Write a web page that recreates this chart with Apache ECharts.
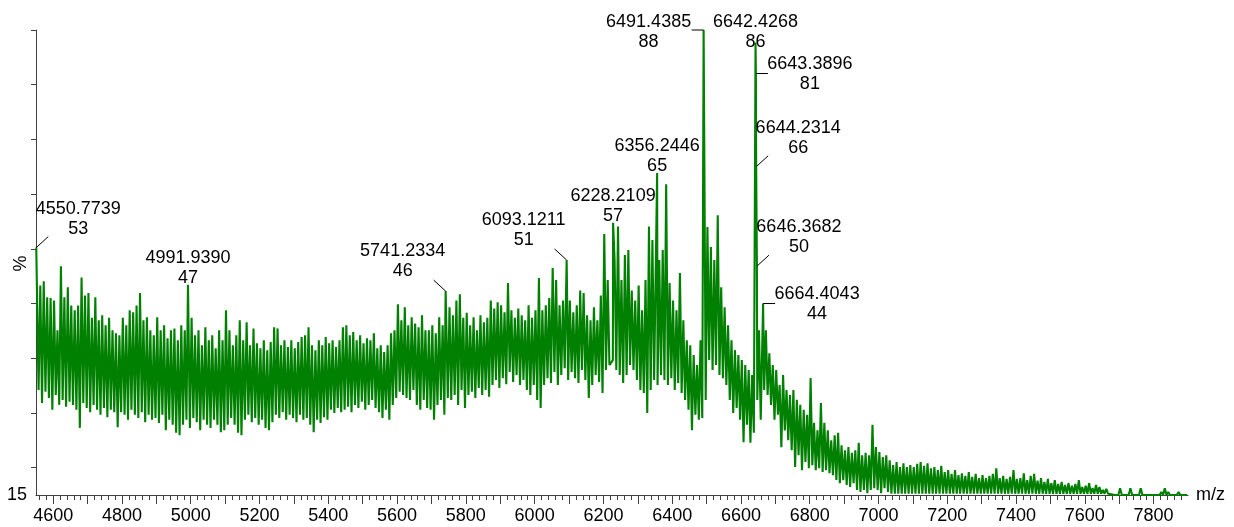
<!DOCTYPE html>
<html>
<head>
<meta charset="utf-8">
<title>Mass spectrum</title>
<script src="https://cdn.jsdelivr.net/npm/echarts@6/dist/echarts.min.js"></script>
<style>
  html, body { margin: 0; padding: 0; background: #fff; }
  #chart { width: 1234px; height: 527px; }
</style>
</head>
<body>
<div id="chart"></div>
<script>
// Spectrum trace, stored as the highest and lowest intensity in each 10 m/z bin
const binStart = 4550;
const binWidth = 10;

const traceHigh = [
  53, 46.9, 47.6, 45.0, 44.9, 44.5, 39.7, 50.0, 45.0, 46.6,
  43.7, 42.9, 43.7, 48.2, 45.3, 45.7, 41.7, 45.0, 41.3, 42.1,
  40.5, 41.7, 39.7, 39.2, 38.9, 41.7, 40.5, 42.9, 42.6, 43.7,
  45.7, 41.3, 41.8, 39.7, 38.9, 41.8, 39.7, 40.5, 38.4, 39.7,
  40.0, 38.1, 40.5, 39.7, 47, 41.7, 38.9, 39.7, 37.3, 40.2,
  38.1, 38.9, 36.8, 39.7, 38.1, 42.9, 39.7, 37.3, 38.9, 41.3,
  38.1, 41.0, 37.3, 40.0, 37.6, 36.8, 38.1, 36.5, 37.8, 40.2,
  40.0, 37.3, 38.1, 37.0, 38.1, 36.8, 37.8, 38.6, 38.9, 40.2,
  37.3, 36.5, 38.1, 37.3, 38.6, 37.6, 38.1, 37.0, 38.1, 40.2,
  40.5, 38.9, 39.4, 38.1, 38.9, 37.6, 38.4, 38.1, 39.2, 36.8,
  37.3, 36.2, 37.3, 39.2, 39.7, 43.9, 41.3, 43.4, 40.5, 41.8,
  40.8, 40.2, 42.1, 39.7, 39.7, 40.5, 39.2, 41.8, 40.5, 46,
  43.4, 42.1, 44.5, 45.5, 41.7, 42.5, 40.5, 41.8, 39.7, 42.1,
  41.0, 41.7, 44.5, 43.2, 44.2, 43.7, 42.6, 47.3, 42.9, 41.7,
  43.2, 42.1, 41.3, 43.7, 41.7, 42.9, 48.1, 42.9, 43.7, 44.9,
  49.7, 47.8, 43.7, 44.5, 51, 44.5, 42.6, 43.7, 46.1, 45.7,
  42.1, 41.3, 43.4, 41.3, 45.3, 55.2, 47.8, 57, 51.0, 56.4,
  47.8, 51.8, 52.6, 46.1, 44.5, 46.9, 42.9, 47.8, 56.4, 54.2,
  65, 51.0, 52.6, 63.2, 47.3, 44.5, 42.9, 48.9, 41.3, 38.1,
  37.3, 35.7, 34.1, 38.1, 88, 56.3, 53.1, 51.0, 58.2, 46.6,
  43.4, 40.5, 38.1, 36.5, 35.7, 34.9, 34.1, 33.3, 32.5, 86,
  39.7, 44, 39.7, 36.0, 34.1, 33.3, 30.9, 32.5, 30.1, 29.3,
  30.1, 28.5, 27.7, 26.9, 26.1, 32.0, 24.8, 23.6, 28.0, 24.8,
  23.6, 22.0, 22.8, 23.2, 21.2, 20.4, 20.9, 20.0, 20.4, 21.6,
  19.6, 20.0, 19.6, 24.5, 20.9, 20.1, 19.3, 19.6, 18.8, 18.0,
  18.5, 17.7, 18.3, 17.7, 18.0, 17.7, 18.2, 18.5, 17.9, 18.3,
  17.5, 17.7, 17.2, 17.9, 16.9, 17.2, 16.6, 17.2, 16.4, 16.7,
  16.3, 16.9, 16.1, 16.6, 15.9, 16.4, 15.9, 16.3, 16.6, 17.5,
  15.9, 16.3, 15.8, 16.1, 17.2, 15.8, 15.9, 16.7, 15.6, 16.3,
  16.6, 15.5, 15.9, 15.3, 15.8, 15.1, 15.6, 15.0, 15.3, 14.8,
  15.1, 14.7, 15.0, 15.6, 14.5, 14.7, 15.1, 14.3, 14.8, 14.5,
  14.0, 14.2, 13.7, 13.4, 13.5, 14.3, 13.4, 13.4, 14.3, 13.4,
  13.5, 14.3, 13.4, 13.4, 13.5, 13.4, 13.4, 13.7, 14.3, 13.7,
  13.4, 13.4, 13.7, 13.4, 13.4
];

const traceLow = [
  30.1, 28.0, 29.8, 28.8, 26.9, 29.3, 27.7, 28.5, 27.4, 28.2,
  27.7, 26.9, 24.0, 28.0, 27.2, 26.5, 27.7, 26.9, 26.1, 27.2,
  25.7, 26.9, 26.5, 24.1, 26.5, 26.1, 25.3, 26.9, 26.1, 25.6,
  26.5, 24.9, 26.1, 25.3, 25.6, 24.8, 26.1, 23.6, 25.3, 24.5,
  23.2, 22.8, 24.5, 25.3, 24.0, 25.6, 24.9, 23.6, 25.3, 24.5,
  24.0, 25.3, 24.5, 23.3, 23.6, 24.5, 25.6, 24.5, 23.2, 22.8,
  25.3, 26.1, 24.9, 25.6, 24.5, 25.3, 24.0, 23.6, 24.9, 26.1,
  25.6, 26.5, 25.3, 26.1, 25.6, 24.9, 26.1, 25.3, 25.6, 24.5,
  23.3, 25.3, 24.8, 25.7, 25.3, 26.9, 26.4, 27.2, 26.5, 26.9,
  27.4, 26.5, 27.7, 27.2, 28.2, 26.9, 27.7, 28.5, 27.2, 26.5,
  25.6, 26.9, 25.3, 27.7, 28.8, 29.8, 29.3, 28.8, 28.5, 30.1,
  27.7, 26.9, 28.5, 27.2, 26.9, 25.3, 27.7, 28.5, 26.1, 28.8,
  28.5, 29.3, 27.7, 30.1, 27.2, 29.3, 29.8, 28.8, 30.4, 29.3,
  30.1, 29.0, 30.9, 31.7, 30.4, 32.0, 31.0, 33.0, 31.4, 32.5,
  30.9, 31.7, 30.1, 29.3, 30.9, 28.5, 27.2, 30.9, 32.0, 31.2,
  33.0, 30.9, 32.5, 33.6, 31.7, 33.0, 32.0, 31.2, 33.3, 31.7,
  28.8, 30.9, 32.5, 31.4, 29.6, 33.3, 34.1, 34.9, 33.3, 32.5,
  31.2, 32.5, 34.1, 33.3, 31.7, 30.1, 29.6, 26.4, 30.1, 31.7,
  30.9, 32.5, 31.7, 30.9, 32.0, 30.1, 31.2, 29.6, 28.5, 26.9,
  23.6, 26.1, 25.3, 25.6, 28.5, 34.9, 33.3, 34.1, 32.5, 32.0,
  30.9, 28.5, 26.4, 27.2, 25.3, 21.7, 24.5, 21.6, 23.2, 28.5,
  25.3, 30.1, 29.3, 27.7, 25.3, 26.1, 20.9, 23.6, 22.0, 20.4,
  17.7, 19.6, 17.2, 18.5, 17.5, 18.0, 17.2, 17.5, 16.9, 17.2,
  16.7, 16.4, 15.6, 15.1, 15.6, 14.8, 14.5, 15.1, 14.0, 13.7,
  14.0, 13.5, 14.0, 14.3, 14.0, 13.5, 14.3, 13.7, 13.4, 13.4,
  13.4, 13.4, 13.4, 13.4, 13.4, 13.4, 13.4, 13.4, 13.4, 13.4,
  13.4, 13.4, 13.4, 13.4, 13.4, 13.4, 13.4, 13.4, 13.4, 13.4,
  13.4, 13.4, 13.4, 13.4, 13.4, 13.4, 13.4, 13.4, 13.4, 13.4,
  13.4, 13.4, 13.4, 13.4, 13.4, 13.4, 13.4, 13.4, 13.4, 13.4,
  13.4, 13.4, 13.4, 13.4, 13.4, 13.4, 13.4, 13.4, 13.4, 13.4,
  13.4, 13.4, 13.4, 13.4, 13.4, 13.4, 13.4, 13.4, 13.4, 13.4,
  13.4, 13.4, 13.3, 13.2, 13.2, 13.2, 13.2, 13.2, 13.2, 13.2,
  13.2, 13.2, 13.2, 13.2, 13.2, 13.2, 13.2, 13.2, 13.2, 13.2,
  13.2, 13.2, 13.2, 13.2, 13.2
];

// Labelled peaks: centroid m/z and intensity
const peakMz = [4550.7739, 4991.9390, 5741.2334, 6093.1211, 6228.2109, 6356.2446,
                6491.4385, 6642.4268, 6643.3896, 6644.2314, 6646.3682, 6664.4043];
const peakIntensity = [53, 47, 46, 51, 57, 65, 88, 86, 81, 66, 50, 44];
// where each label sits relative to its peak
const peakLabelSide = ['upRight', 'above', 'upLeft', 'upLeft', 'above', 'above',
                       'left', 'above', 'right', 'upRight', 'upRight', 'right'];

// Axes
const xMin = 4550, xMax = 7900;
const xLabelValues = [4600, 4800, 5000, 5200, 5400, 5600, 5800, 6000, 6200,
                      6400, 6600, 6800, 7000, 7200, 7400, 7600, 7800];
const yTickPercents = [20, 30, 40, 50, 60, 70, 80, 90, 100];
const yLabelPercents = [15];

const FONT = '"Liberation Sans", Arial, Helvetica, sans-serif';
const AXIS_COLOR = '#404040';
const TRACE_COLOR = '#008000';

// relative intensity scale: the base peak is 100 %
const basePeak = Math.max(...peakIntensity);
const yMin = basePeak * yLabelPercents[0] / 100;
const pctToValue = p => basePeak * p / 100;

// Build the trace polyline; a labelled peak stands in for its bin maximum
const trace = [];
for (let i = 0; i < traceHigh.length; i++) {
  const b0 = binStart + i * binWidth;
  const b1 = b0 + binWidth;
  const inBin = [];
  peakMz.forEach((m, k) => { if (m >= b0 && m < b1) inBin.push([m, peakIntensity[k]]); });
  if (inBin.length) trace.push(...inBin);
  else trace.push([b0 + binWidth * 0.25, traceHigh[i]]);
  trace.push([b0 + binWidth * 0.75, traceLow[i]]);
}
trace.sort((a, b) => a[0] - b[0]);

const majorTicks = [];
for (let v = 4600; v <= 7800; v += 100) majorTicks.push(v);
const minorTicks = [];
for (let v = 4560; v <= 7880; v += 20) minorTicks.push(v);

const chart = echarts.init(document.getElementById('chart'), null, { renderer: 'canvas' });

chart.setOption({
  animation: false,
  backgroundColor: '#fff',
  grid: { left: 36, right: 46, top: 30, bottom: 32 },
  xAxis: [
    {
      type: 'value', min: xMin, max: xMax,
      name: 'm/z', nameLocation: 'end', nameGap: 8,
      nameTextStyle: { color: '#000', fontSize: 18, fontFamily: FONT },
      axisLine: { show: true, onZero: false, lineStyle: { color: AXIS_COLOR, width: 1 } },
      axisTick: { show: true, length: 9, customValues: majorTicks, lineStyle: { color: AXIS_COLOR, width: 1 } },
      axisLabel: {
        customValues: xLabelValues, formatter: v => String(v),
        color: '#000', fontSize: 18, fontFamily: FONT, margin: 12
      },
      splitLine: { show: false }
    },
    {
      type: 'value', min: xMin, max: xMax, position: 'bottom', offset: 0,
      axisLine: { show: false, onZero: false },
      axisTick: { show: true, length: 5, customValues: minorTicks, lineStyle: { color: AXIS_COLOR, width: 1 } },
      axisLabel: { show: false },
      splitLine: { show: false }
    }
  ],
  yAxis: {
    type: 'value', min: yMin, max: basePeak,
    axisLine: { show: true, onZero: false, lineStyle: { color: AXIS_COLOR, width: 1 } },
    axisTick: { show: true, length: 5, customValues: yTickPercents.map(pctToValue), lineStyle: { color: AXIS_COLOR, width: 1 } },
    axisLabel: {
      customValues: yLabelPercents.map(pctToValue),
      formatter: v => String(Math.round(v / basePeak * 100)),
      color: '#000', fontSize: 18, fontFamily: FONT, margin: 9
    },
    splitLine: { show: false }
  },
  // y-axis title, set sideways beside the axis
  graphic: [{
    type: 'text',
    left: 12, top: 'middle',
    rotation: Math.PI / 2,
    style: { text: '%', fontSize: 18, fontFamily: FONT, fill: '#000' }
  }],
  series: [
    {
      type: 'line',
      data: trace,
      symbol: 'none',
      showSymbol: false,
      silent: true,
      lineStyle: { color: TRACE_COLOR, width: 2.1 },
      z: 2
    },
    {
      type: 'custom',
      data: peakMz.map((m, k) => [m, peakIntensity[k], k]),
      encode: { x: 0, y: 1 },
      clip: false,
      silent: true,
      z: 5,
      renderItem: (params, api) => {
        const k = api.value(2);
        const pt = api.coord([api.value(0), api.value(1)]);
        const px = pt[0], py = pt[1];
        let cx, cy, lead = null;
        switch (peakLabelSide[k]) {
          case 'upRight': lead = [12, -11]; cx = px + 42; cy = py - 39; break;
          case 'upLeft':  lead = [-12, -11]; cx = px - 43; cy = py - 40; break;
          case 'right':   lead = [12, 0]; cx = px + 54; cy = py - 9; break;
          case 'left':    lead = [-12, 0]; cx = px - 55; cy = py - 8; break;
          default:        cx = px; cy = Math.max(py - 27, 22);
        }
        const children = [];
        if (lead) {
          children.push({
            type: 'line',
            shape: { x1: px, y1: py, x2: px + lead[0], y2: py + lead[1] },
            style: { stroke: '#000', lineWidth: 1 }
          });
        }
        children.push({
          type: 'text',
          x: cx, y: cy - 10,
          style: {
            text: peakMz[k].toFixed(4) + '\n' + peakIntensity[k],
            align: 'center', verticalAlign: 'top',
            fontSize: 18, fontFamily: FONT, lineHeight: 20, fill: '#000'
          }
        });
        return { type: 'group', children };
      }
    }
  ]
});
</script>
</body>
</html>
